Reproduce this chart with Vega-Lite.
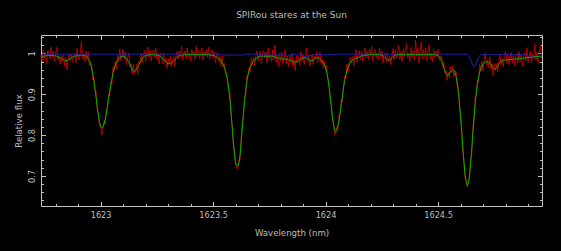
{
"$schema": "https://vega.github.io/schema/vega-lite/v6.json",
"width": 501, "height": 171,
"autosize": {"type": "none"},
"padding": {"left": 41, "top": 35, "right": 19, "bottom": 45},
"background": "#000000",
"title": {"text": "SPIRou stares at the Sun", "font": "DejaVu Sans", "fontSize": 9, "fontWeight": "normal", "color": "#bdbdbd", "anchor": "middle", "offset": 8, "baseline": "alphabetic"},
"data": {"values": [
{"w":1622.735,"o":0.994,"m":0.990,"t":0.996},{"w":1622.74,"o":0.981,"m":0.991,"t":0.996},{"w":1622.745,"o":1.008,"m":0.992,"t":0.996},{"w":1622.75,"o":0.986,"m":0.993,"t":0.996},{"w":1622.755,"o":1.002,"m":0.994,"t":0.996},
{"w":1622.76,"o":0.977,"m":0.995,"t":0.997},{"w":1622.765,"o":1.007,"m":0.995,"t":0.997},{"w":1622.77,"o":0.998,"m":0.995,"t":0.997},{"w":1622.775,"o":0.986,"m":0.995,"t":0.997},{"w":1622.78,"o":1.015,"m":0.995,"t":0.998},
{"w":1622.785,"o":0.991,"m":0.995,"t":0.998},{"w":1622.79,"o":1.005,"m":0.995,"t":0.998},{"w":1622.795,"o":0.980,"m":0.994,"t":0.998},{"w":1622.8,"o":0.999,"m":0.994,"t":0.998},{"w":1622.805,"o":1.015,"m":0.993,"t":0.998},
{"w":1622.81,"o":0.984,"m":0.992,"t":0.998},{"w":1622.815,"o":0.992,"m":0.991,"t":0.998},{"w":1622.82,"o":0.973,"m":0.989,"t":0.998},{"w":1622.825,"o":0.996,"m":0.987,"t":0.998},{"w":1622.83,"o":0.982,"m":0.985,"t":0.998},
{"w":1622.835,"o":0.997,"m":0.984,"t":0.998},{"w":1622.84,"o":0.970,"m":0.982,"t":0.998},{"w":1622.845,"o":0.989,"m":0.982,"t":0.998},{"w":1622.85,"o":0.961,"m":0.982,"t":0.998},{"w":1622.855,"o":0.988,"m":0.984,"t":0.998},
{"w":1622.86,"o":0.999,"m":0.985,"t":0.998},{"w":1622.865,"o":0.982,"m":0.987,"t":0.998},{"w":1622.87,"o":0.999,"m":0.989,"t":0.998},{"w":1622.875,"o":0.978,"m":0.991,"t":0.998},{"w":1622.88,"o":0.993,"m":0.992,"t":0.998},
{"w":1622.885,"o":1.001,"m":0.993,"t":0.998},{"w":1622.89,"o":0.977,"m":0.994,"t":0.998},{"w":1622.895,"o":1.012,"m":0.994,"t":0.998},{"w":1622.9,"o":0.991,"m":0.994,"t":0.998},{"w":1622.905,"o":0.985,"m":0.995,"t":0.998},
{"w":1622.91,"o":1.002,"m":0.995,"t":0.998},{"w":1622.915,"o":1.030,"m":0.995,"t":0.998},{"w":1622.92,"o":0.986,"m":0.995,"t":0.998},{"w":1622.925,"o":0.999,"m":0.995,"t":0.998},{"w":1622.93,"o":0.980,"m":0.994,"t":0.998},
{"w":1622.935,"o":1.005,"m":0.993,"t":0.998},{"w":1622.94,"o":0.985,"m":0.990,"t":0.998},{"w":1622.945,"o":1.004,"m":0.987,"t":0.998},{"w":1622.95,"o":0.970,"m":0.982,"t":0.998},{"w":1622.955,"o":0.978,"m":0.975,"t":0.998},
{"w":1622.96,"o":0.973,"m":0.964,"t":0.998},{"w":1622.965,"o":0.935,"m":0.951,"t":0.998},{"w":1622.97,"o":0.942,"m":0.934,"t":0.998},{"w":1622.975,"o":0.909,"m":0.913,"t":0.998},{"w":1622.98,"o":0.905,"m":0.892,"t":0.998},
{"w":1622.985,"o":0.861,"m":0.869,"t":0.998},{"w":1622.99,"o":0.854,"m":0.849,"t":0.998},{"w":1622.995,"o":0.822,"m":0.832,"t":0.998},{"w":1623.0,"o":0.825,"m":0.821,"t":0.998},{"w":1623.005,"o":0.800,"m":0.817,"t":0.998},
{"w":1623.01,"o":0.814,"m":0.819,"t":0.998},{"w":1623.015,"o":0.835,"m":0.827,"t":0.998},{"w":1623.02,"o":0.826,"m":0.838,"t":0.998},{"w":1623.025,"o":0.862,"m":0.852,"t":0.998},{"w":1623.03,"o":0.866,"m":0.869,"t":0.998},
{"w":1623.035,"o":0.901,"m":0.887,"t":0.998},{"w":1623.04,"o":0.896,"m":0.905,"t":0.998},{"w":1623.045,"o":0.929,"m":0.922,"t":0.998},{"w":1623.05,"o":0.924,"m":0.937,"t":0.998},{"w":1623.055,"o":0.967,"m":0.951,"t":0.998},
{"w":1623.06,"o":0.958,"m":0.962,"t":0.998},{"w":1623.065,"o":0.980,"m":0.971,"t":0.998},{"w":1623.07,"o":0.960,"m":0.978,"t":0.998},{"w":1623.075,"o":0.995,"m":0.983,"t":0.998},{"w":1623.08,"o":0.980,"m":0.987,"t":0.998},
{"w":1623.085,"o":1.011,"m":0.990,"t":0.998},{"w":1623.09,"o":0.982,"m":0.992,"t":0.998},{"w":1623.095,"o":0.996,"m":0.993,"t":0.998},{"w":1623.1,"o":1.010,"m":0.993,"t":0.998},{"w":1623.105,"o":0.985,"m":0.993,"t":0.998},
{"w":1623.11,"o":1.004,"m":0.991,"t":0.998},{"w":1623.115,"o":0.973,"m":0.987,"t":0.998},{"w":1623.12,"o":0.988,"m":0.983,"t":0.998},{"w":1623.125,"o":1.001,"m":0.978,"t":0.998},{"w":1623.13,"o":0.968,"m":0.972,"t":0.998},
{"w":1623.135,"o":0.975,"m":0.966,"t":0.998},{"w":1623.14,"o":0.949,"m":0.961,"t":0.998},{"w":1623.145,"o":0.973,"m":0.957,"t":0.998},{"w":1623.15,"o":0.949,"m":0.956,"t":0.998},{"w":1623.155,"o":0.958,"m":0.957,"t":0.998},
{"w":1623.16,"o":0.973,"m":0.961,"t":0.998},{"w":1623.165,"o":0.949,"m":0.966,"t":0.998},{"w":1623.17,"o":0.980,"m":0.972,"t":0.998},{"w":1623.175,"o":0.975,"m":0.978,"t":0.998},{"w":1623.18,"o":1.001,"m":0.983,"t":0.998},
{"w":1623.185,"o":0.978,"m":0.987,"t":0.998},{"w":1623.19,"o":0.995,"m":0.991,"t":0.998},{"w":1623.195,"o":1.007,"m":0.993,"t":0.998},{"w":1623.2,"o":0.981,"m":0.994,"t":0.998},{"w":1623.205,"o":1.002,"m":0.995,"t":0.998},
{"w":1623.21,"o":1.016,"m":0.996,"t":0.998},{"w":1623.215,"o":0.991,"m":0.996,"t":0.998},{"w":1623.22,"o":1.007,"m":0.997,"t":0.998},{"w":1623.225,"o":0.981,"m":0.997,"t":0.998},{"w":1623.23,"o":1.000,"m":0.997,"t":0.998},
{"w":1623.235,"o":1.009,"m":0.997,"t":0.998},{"w":1623.24,"o":0.989,"m":0.997,"t":0.998},{"w":1623.245,"o":1.013,"m":0.996,"t":0.998},{"w":1623.25,"o":0.986,"m":0.996,"t":0.998},{"w":1623.255,"o":1.000,"m":0.995,"t":0.998},
{"w":1623.26,"o":0.974,"m":0.994,"t":0.998},{"w":1623.265,"o":1.002,"m":0.993,"t":0.998},{"w":1623.27,"o":0.992,"m":0.991,"t":0.998},{"w":1623.275,"o":0.976,"m":0.988,"t":0.998},{"w":1623.28,"o":1.001,"m":0.985,"t":0.998},
{"w":1623.285,"o":0.977,"m":0.982,"t":0.998},{"w":1623.29,"o":0.988,"m":0.980,"t":0.998},{"w":1623.295,"o":0.963,"m":0.977,"t":0.998},{"w":1623.3,"o":0.988,"m":0.975,"t":0.998},{"w":1623.305,"o":0.972,"m":0.975,"t":0.998},
{"w":1623.31,"o":0.993,"m":0.975,"t":0.998},{"w":1623.315,"o":0.968,"m":0.977,"t":0.998},{"w":1623.32,"o":0.984,"m":0.980,"t":0.998},{"w":1623.325,"o":0.992,"m":0.982,"t":0.998},{"w":1623.33,"o":0.968,"m":0.985,"t":0.998},
{"w":1623.335,"o":0.995,"m":0.988,"t":0.998},{"w":1623.34,"o":1.005,"m":0.991,"t":0.998},{"w":1623.345,"o":0.985,"m":0.993,"t":0.998},{"w":1623.35,"o":1.006,"m":0.994,"t":0.998},{"w":1623.355,"o":0.991,"m":0.995,"t":0.998},
{"w":1623.36,"o":1.017,"m":0.996,"t":0.998},{"w":1623.365,"o":0.983,"m":0.996,"t":0.998},{"w":1623.37,"o":1.000,"m":0.997,"t":0.998},{"w":1623.375,"o":1.006,"m":0.997,"t":0.998},{"w":1623.38,"o":0.987,"m":0.997,"t":0.998},
{"w":1623.385,"o":1.014,"m":0.997,"t":0.998},{"w":1623.39,"o":0.990,"m":0.997,"t":0.998},{"w":1623.395,"o":1.002,"m":0.997,"t":0.998},{"w":1623.4,"o":0.981,"m":0.997,"t":0.998},{"w":1623.405,"o":1.010,"m":0.997,"t":0.998},
{"w":1623.41,"o":0.996,"m":0.997,"t":0.998},{"w":1623.415,"o":1.005,"m":0.997,"t":0.998},{"w":1623.42,"o":0.985,"m":0.997,"t":0.998},{"w":1623.425,"o":1.017,"m":0.997,"t":0.998},{"w":1623.43,"o":0.992,"m":0.997,"t":0.998},
{"w":1623.435,"o":1.007,"m":0.997,"t":0.998},{"w":1623.44,"o":0.988,"m":0.997,"t":0.998},{"w":1623.445,"o":1.001,"m":0.997,"t":0.998},{"w":1623.45,"o":1.013,"m":0.997,"t":0.998},{"w":1623.455,"o":0.983,"m":0.997,"t":0.998},
{"w":1623.46,"o":1.004,"m":0.997,"t":0.998},{"w":1623.465,"o":0.994,"m":0.997,"t":0.998},{"w":1623.47,"o":1.009,"m":0.997,"t":0.998},{"w":1623.475,"o":0.989,"m":0.997,"t":0.998},{"w":1623.48,"o":1.015,"m":0.997,"t":0.998},
{"w":1623.485,"o":0.986,"m":0.996,"t":0.998},{"w":1623.49,"o":1.001,"m":0.996,"t":0.998},{"w":1623.495,"o":1.009,"m":0.995,"t":0.998},{"w":1623.5,"o":0.991,"m":0.995,"t":0.998},{"w":1623.505,"o":1.003,"m":0.994,"t":0.998},
{"w":1623.51,"o":0.977,"m":0.993,"t":0.998},{"w":1623.515,"o":0.994,"m":0.991,"t":0.998},{"w":1623.52,"o":1.002,"m":0.989,"t":0.998},{"w":1623.525,"o":0.980,"m":0.987,"t":0.998},{"w":1623.53,"o":0.993,"m":0.985,"t":0.998},
{"w":1623.535,"o":0.969,"m":0.981,"t":0.996},{"w":1623.54,"o":0.994,"m":0.977,"t":0.996},{"w":1623.545,"o":0.967,"m":0.972,"t":0.996},{"w":1623.55,"o":0.976,"m":0.966,"t":0.996},{"w":1623.555,"o":0.949,"m":0.958,"t":0.996},
{"w":1623.56,"o":0.951,"m":0.947,"t":0.996},{"w":1623.565,"o":0.919,"m":0.932,"t":0.996},{"w":1623.57,"o":0.919,"m":0.911,"t":0.996},{"w":1623.575,"o":0.901,"m":0.885,"t":0.996},{"w":1623.58,"o":0.847,"m":0.854,"t":0.996},
{"w":1623.585,"o":0.824,"m":0.819,"t":0.996},{"w":1623.59,"o":0.774,"m":0.784,"t":0.996},{"w":1623.595,"o":0.765,"m":0.753,"t":0.996},{"w":1623.6,"o":0.728,"m":0.732,"t":0.996},{"w":1623.605,"o":0.718,"m":0.726,"t":0.996},
{"w":1623.61,"o":0.718,"m":0.725,"t":0.996},{"w":1623.615,"o":0.741,"m":0.732,"t":0.996},{"w":1623.62,"o":0.741,"m":0.753,"t":0.996},{"w":1623.625,"o":0.791,"m":0.784,"t":0.996},{"w":1623.63,"o":0.833,"m":0.819,"t":0.996},
{"w":1623.635,"o":0.846,"m":0.854,"t":0.996},{"w":1623.64,"o":0.895,"m":0.885,"t":0.998},{"w":1623.645,"o":0.895,"m":0.911,"t":0.998},{"w":1623.65,"o":0.945,"m":0.932,"t":0.998},{"w":1623.655,"o":0.943,"m":0.947,"t":0.998},
{"w":1623.66,"o":0.966,"m":0.958,"t":0.998},{"w":1623.665,"o":0.954,"m":0.966,"t":0.998},{"w":1623.67,"o":0.990,"m":0.972,"t":0.998},{"w":1623.675,"o":0.972,"m":0.977,"t":0.998},{"w":1623.68,"o":0.990,"m":0.981,"t":0.998},
{"w":1623.685,"o":0.971,"m":0.985,"t":0.998},{"w":1623.69,"o":0.994,"m":0.987,"t":0.998},{"w":1623.695,"o":1.006,"m":0.989,"t":0.998},{"w":1623.7,"o":0.982,"m":0.991,"t":0.998},{"w":1623.705,"o":0.996,"m":0.993,"t":0.998},
{"w":1623.71,"o":1.005,"m":0.993,"t":0.998},{"w":1623.715,"o":0.975,"m":0.993,"t":0.998},{"w":1623.72,"o":1.001,"m":0.993,"t":0.998},{"w":1623.725,"o":1.007,"m":0.993,"t":0.998},{"w":1623.73,"o":0.989,"m":0.993,"t":0.998},
{"w":1623.735,"o":1.003,"m":0.993,"t":0.996},{"w":1623.74,"o":0.977,"m":0.993,"t":0.996},{"w":1623.745,"o":1.014,"m":0.993,"t":0.996},{"w":1623.75,"o":0.986,"m":0.993,"t":0.996},{"w":1623.755,"o":0.997,"m":0.993,"t":0.996},
{"w":1623.76,"o":0.980,"m":0.993,"t":0.996},{"w":1623.765,"o":1.009,"m":0.993,"t":0.996},{"w":1623.77,"o":0.983,"m":0.992,"t":0.996},{"w":1623.775,"o":1.020,"m":0.991,"t":0.996},{"w":1623.78,"o":0.978,"m":0.990,"t":0.996},
{"w":1623.785,"o":0.996,"m":0.989,"t":0.996},{"w":1623.79,"o":0.968,"m":0.988,"t":0.996},{"w":1623.795,"o":1.000,"m":0.988,"t":0.996},{"w":1623.8,"o":0.982,"m":0.987,"t":0.996},{"w":1623.805,"o":1.004,"m":0.987,"t":0.996},
{"w":1623.81,"o":0.973,"m":0.987,"t":0.996},{"w":1623.815,"o":0.989,"m":0.986,"t":0.996},{"w":1623.82,"o":1.009,"m":0.986,"t":0.996},{"w":1623.825,"o":0.975,"m":0.985,"t":0.996},{"w":1623.83,"o":0.993,"m":0.985,"t":0.996},
{"w":1623.835,"o":0.967,"m":0.984,"t":0.996},{"w":1623.84,"o":0.996,"m":0.983,"t":0.996},{"w":1623.845,"o":0.978,"m":0.982,"t":0.996},{"w":1623.85,"o":1.001,"m":0.981,"t":0.997},{"w":1623.855,"o":0.968,"m":0.980,"t":0.997},
{"w":1623.86,"o":0.984,"m":0.979,"t":0.997},{"w":1623.865,"o":0.958,"m":0.979,"t":0.997},{"w":1623.87,"o":0.995,"m":0.979,"t":0.997},{"w":1623.875,"o":0.977,"m":0.980,"t":0.997},{"w":1623.88,"o":0.992,"m":0.982,"t":0.997},
{"w":1623.885,"o":0.971,"m":0.984,"t":0.997},{"w":1623.89,"o":1.004,"m":0.986,"t":0.997},{"w":1623.895,"o":0.981,"m":0.988,"t":0.995},{"w":1623.9,"o":0.998,"m":0.989,"t":0.994},{"w":1623.905,"o":0.973,"m":0.989,"t":0.993},
{"w":1623.91,"o":0.993,"m":0.989,"t":0.992},{"w":1623.915,"o":1.014,"m":0.988,"t":0.992},{"w":1623.92,"o":0.979,"m":0.987,"t":0.992},{"w":1623.925,"o":0.997,"m":0.985,"t":0.993},{"w":1623.93,"o":0.969,"m":0.983,"t":0.994},
{"w":1623.935,"o":0.987,"m":0.982,"t":0.995},{"w":1623.94,"o":0.998,"m":0.982,"t":0.996},{"w":1623.945,"o":0.973,"m":0.983,"t":0.997},{"w":1623.95,"o":0.994,"m":0.986,"t":0.997},{"w":1623.955,"o":0.985,"m":0.989,"t":0.997},
{"w":1623.96,"o":1.004,"m":0.990,"t":0.997},{"w":1623.965,"o":0.977,"m":0.989,"t":0.997},{"w":1623.97,"o":0.995,"m":0.988,"t":0.997},{"w":1623.975,"o":1.003,"m":0.986,"t":0.997},{"w":1623.98,"o":0.975,"m":0.984,"t":0.997},
{"w":1623.985,"o":0.984,"m":0.981,"t":0.997},{"w":1623.99,"o":0.964,"m":0.977,"t":0.997},{"w":1623.995,"o":0.982,"m":0.972,"t":0.997},{"w":1624.0,"o":0.958,"m":0.965,"t":0.997},{"w":1624.005,"o":0.970,"m":0.954,"t":0.997},
{"w":1624.01,"o":0.936,"m":0.940,"t":0.997},{"w":1624.015,"o":0.929,"m":0.920,"t":0.997},{"w":1624.02,"o":0.887,"m":0.897,"t":0.997},{"w":1624.025,"o":0.878,"m":0.873,"t":0.997},{"w":1624.03,"o":0.834,"m":0.848,"t":0.997},
{"w":1624.035,"o":0.835,"m":0.827,"t":0.997},{"w":1624.04,"o":0.801,"m":0.813,"t":0.997},{"w":1624.045,"o":0.805,"m":0.808,"t":0.997},{"w":1624.05,"o":0.819,"m":0.812,"t":0.998},{"w":1624.055,"o":0.814,"m":0.823,"t":0.998},
{"w":1624.06,"o":0.850,"m":0.837,"t":0.998},{"w":1624.065,"o":0.851,"m":0.856,"t":0.998},{"w":1624.07,"o":0.887,"m":0.877,"t":0.998},{"w":1624.075,"o":0.881,"m":0.897,"t":0.998},{"w":1624.08,"o":0.922,"m":0.918,"t":0.998},
{"w":1624.085,"o":0.945,"m":0.933,"t":0.998},{"w":1624.09,"o":0.939,"m":0.947,"t":0.998},{"w":1624.095,"o":0.974,"m":0.957,"t":0.998},{"w":1624.1,"o":0.953,"m":0.966,"t":0.998},{"w":1624.105,"o":0.977,"m":0.972,"t":0.998},
{"w":1624.11,"o":0.991,"m":0.977,"t":0.998},{"w":1624.115,"o":0.977,"m":0.981,"t":0.998},{"w":1624.12,"o":0.992,"m":0.983,"t":0.998},{"w":1624.125,"o":0.969,"m":0.986,"t":0.998},{"w":1624.13,"o":0.994,"m":0.987,"t":0.998},
{"w":1624.135,"o":1.009,"m":0.988,"t":0.998},{"w":1624.14,"o":0.979,"m":0.989,"t":0.998},{"w":1624.145,"o":0.993,"m":0.990,"t":0.998},{"w":1624.15,"o":1.007,"m":0.991,"t":0.998},{"w":1624.155,"o":0.984,"m":0.992,"t":0.998},
{"w":1624.16,"o":1.006,"m":0.994,"t":0.998},{"w":1624.165,"o":0.980,"m":0.994,"t":0.998},{"w":1624.17,"o":1.000,"m":0.995,"t":0.998},{"w":1624.175,"o":1.013,"m":0.995,"t":0.998},{"w":1624.18,"o":0.989,"m":0.996,"t":0.998},
{"w":1624.185,"o":1.005,"m":0.996,"t":0.998},{"w":1624.19,"o":0.985,"m":0.997,"t":0.998},{"w":1624.195,"o":1.011,"m":0.997,"t":0.998},{"w":1624.2,"o":0.993,"m":0.997,"t":0.998},{"w":1624.205,"o":1.017,"m":0.997,"t":0.998},
{"w":1624.21,"o":0.981,"m":0.997,"t":0.998},{"w":1624.215,"o":1.005,"m":0.997,"t":0.998},{"w":1624.22,"o":1.010,"m":0.997,"t":0.998},{"w":1624.225,"o":0.988,"m":0.997,"t":0.998},{"w":1624.23,"o":1.001,"m":0.997,"t":0.998},
{"w":1624.235,"o":0.984,"m":0.997,"t":0.998},{"w":1624.24,"o":1.014,"m":0.997,"t":0.998},{"w":1624.245,"o":0.991,"m":0.996,"t":0.998},{"w":1624.25,"o":1.006,"m":0.996,"t":0.998},{"w":1624.255,"o":0.976,"m":0.994,"t":0.998},
{"w":1624.26,"o":0.999,"m":0.992,"t":0.998},{"w":1624.265,"o":1.001,"m":0.989,"t":0.998},{"w":1624.27,"o":0.978,"m":0.986,"t":0.998},{"w":1624.275,"o":1.000,"m":0.984,"t":0.998},{"w":1624.28,"o":0.980,"m":0.983,"t":0.998},
{"w":1624.285,"o":0.993,"m":0.984,"t":0.998},{"w":1624.29,"o":0.972,"m":0.986,"t":0.998},{"w":1624.295,"o":0.994,"m":0.989,"t":0.998},{"w":1624.3,"o":1.012,"m":0.992,"t":0.998},{"w":1624.305,"o":0.984,"m":0.994,"t":0.998},
{"w":1624.31,"o":1.009,"m":0.996,"t":0.998},{"w":1624.315,"o":0.989,"m":0.996,"t":0.998},{"w":1624.32,"o":1.000,"m":0.997,"t":0.998},{"w":1624.325,"o":1.020,"m":0.997,"t":0.998},{"w":1624.33,"o":0.985,"m":0.997,"t":0.998},
{"w":1624.335,"o":1.005,"m":0.997,"t":0.998},{"w":1624.34,"o":0.980,"m":0.997,"t":0.998},{"w":1624.345,"o":1.011,"m":0.997,"t":0.998},{"w":1624.35,"o":0.992,"m":0.997,"t":0.998},{"w":1624.355,"o":1.009,"m":0.997,"t":0.998},
{"w":1624.36,"o":1.024,"m":0.997,"t":0.998},{"w":1624.365,"o":0.988,"m":0.997,"t":0.998},{"w":1624.37,"o":1.001,"m":0.997,"t":0.998},{"w":1624.375,"o":0.981,"m":0.997,"t":0.998},{"w":1624.38,"o":1.015,"m":0.997,"t":0.998},
{"w":1624.385,"o":0.989,"m":0.997,"t":0.998},{"w":1624.39,"o":1.007,"m":0.997,"t":0.998},{"w":1624.395,"o":0.984,"m":0.997,"t":0.998},{"w":1624.4,"o":1.033,"m":0.997,"t":0.998},{"w":1624.405,"o":0.993,"m":0.997,"t":0.998},
{"w":1624.41,"o":1.013,"m":0.997,"t":0.998},{"w":1624.415,"o":0.977,"m":0.997,"t":0.998},{"w":1624.42,"o":1.004,"m":0.997,"t":0.998},{"w":1624.425,"o":1.028,"m":0.997,"t":0.998},{"w":1624.43,"o":0.987,"m":0.997,"t":0.998},
{"w":1624.435,"o":1.010,"m":0.997,"t":0.998},{"w":1624.44,"o":0.992,"m":0.997,"t":0.998},{"w":1624.445,"o":1.014,"m":0.997,"t":0.998},{"w":1624.45,"o":0.983,"m":0.997,"t":0.998},{"w":1624.455,"o":1.005,"m":0.997,"t":0.998},
{"w":1624.46,"o":1.022,"m":0.997,"t":0.998},{"w":1624.465,"o":0.985,"m":0.997,"t":0.998},{"w":1624.47,"o":1.001,"m":0.997,"t":0.998},{"w":1624.475,"o":0.979,"m":0.997,"t":0.998},{"w":1624.48,"o":1.011,"m":0.997,"t":0.998},
{"w":1624.485,"o":0.990,"m":0.997,"t":0.998},{"w":1624.49,"o":1.006,"m":0.996,"t":0.998},{"w":1624.495,"o":0.992,"m":0.995,"t":0.998},{"w":1624.5,"o":1.010,"m":0.994,"t":0.998},{"w":1624.505,"o":0.983,"m":0.992,"t":0.998},
{"w":1624.51,"o":0.993,"m":0.988,"t":0.998},{"w":1624.515,"o":0.995,"m":0.982,"t":0.998},{"w":1624.52,"o":0.967,"m":0.975,"t":0.998},{"w":1624.525,"o":0.978,"m":0.966,"t":0.998},{"w":1624.53,"o":0.953,"m":0.957,"t":0.998},
{"w":1624.535,"o":0.959,"m":0.951,"t":0.998},{"w":1624.54,"o":0.934,"m":0.947,"t":0.998},{"w":1624.545,"o":0.954,"m":0.947,"t":0.998},{"w":1624.55,"o":0.940,"m":0.950,"t":0.998},{"w":1624.555,"o":0.968,"m":0.954,"t":0.998},
{"w":1624.56,"o":0.953,"m":0.958,"t":0.998},{"w":1624.565,"o":0.969,"m":0.960,"t":0.998},{"w":1624.57,"o":0.943,"m":0.959,"t":0.998},{"w":1624.575,"o":0.957,"m":0.953,"t":0.998},{"w":1624.58,"o":0.955,"m":0.943,"t":0.998},
{"w":1624.585,"o":0.920,"m":0.928,"t":0.998},{"w":1624.59,"o":0.920,"m":0.907,"t":0.998},{"w":1624.595,"o":0.869,"m":0.879,"t":0.998},{"w":1624.6,"o":0.851,"m":0.846,"t":0.998},{"w":1624.605,"o":0.818,"m":0.809,"t":0.998},
{"w":1624.61,"o":0.759,"m":0.771,"t":0.998},{"w":1624.615,"o":0.738,"m":0.734,"t":0.998},{"w":1624.62,"o":0.697,"m":0.704,"t":0.998},{"w":1624.625,"o":0.692,"m":0.684,"t":0.998},{"w":1624.63,"o":0.672,"m":0.677,"t":0.997},
{"w":1624.635,"o":0.692,"m":0.682,"t":0.995},{"w":1624.64,"o":0.693,"m":0.702,"t":0.990},{"w":1624.645,"o":0.739,"m":0.732,"t":0.984},{"w":1624.65,"o":0.755,"m":0.768,"t":0.977},{"w":1624.655,"o":0.819,"m":0.807,"t":0.970},
{"w":1624.66,"o":0.839,"m":0.844,"t":0.968},{"w":1624.665,"o":0.893,"m":0.877,"t":0.970},{"w":1624.67,"o":0.895,"m":0.905,"t":0.977},{"w":1624.675,"o":0.934,"m":0.926,"t":0.984},{"w":1624.68,"o":0.929,"m":0.943,"t":0.990},
{"w":1624.685,"o":0.973,"m":0.955,"t":0.995},{"w":1624.69,"o":0.956,"m":0.963,"t":0.997},{"w":1624.695,"o":0.981,"m":0.969,"t":0.997},{"w":1624.7,"o":0.957,"m":0.974,"t":0.997},{"w":1624.705,"o":0.986,"m":0.977,"t":0.997},
{"w":1624.71,"o":1.000,"m":0.979,"t":0.997},{"w":1624.715,"o":0.971,"m":0.979,"t":0.997},{"w":1624.72,"o":0.983,"m":0.979,"t":0.997},{"w":1624.725,"o":0.965,"m":0.978,"t":0.997},{"w":1624.73,"o":0.992,"m":0.976,"t":0.997},
{"w":1624.735,"o":0.962,"m":0.972,"t":0.997},{"w":1624.74,"o":0.975,"m":0.968,"t":0.997},{"w":1624.745,"o":0.946,"m":0.964,"t":0.997},{"w":1624.75,"o":0.975,"m":0.961,"t":0.997},{"w":1624.755,"o":0.958,"m":0.962,"t":0.997},
{"w":1624.76,"o":0.975,"m":0.965,"t":0.997},{"w":1624.765,"o":0.955,"m":0.969,"t":0.997},{"w":1624.77,"o":0.982,"m":0.974,"t":0.997},{"w":1624.775,"o":0.998,"m":0.978,"t":0.997},{"w":1624.78,"o":0.971,"m":0.980,"t":0.997},
{"w":1624.785,"o":0.987,"m":0.982,"t":0.997},{"w":1624.79,"o":0.967,"m":0.983,"t":0.997},{"w":1624.795,"o":0.995,"m":0.983,"t":0.997},{"w":1624.8,"o":1.006,"m":0.984,"t":0.997},{"w":1624.805,"o":0.977,"m":0.984,"t":0.997},
{"w":1624.81,"o":0.997,"m":0.984,"t":0.997},{"w":1624.815,"o":0.973,"m":0.985,"t":0.997},{"w":1624.82,"o":0.988,"m":0.985,"t":0.997},{"w":1624.825,"o":1.002,"m":0.985,"t":0.997},{"w":1624.83,"o":0.977,"m":0.985,"t":0.997},
{"w":1624.835,"o":0.996,"m":0.986,"t":0.997},{"w":1624.84,"o":0.969,"m":0.986,"t":0.997},{"w":1624.845,"o":0.993,"m":0.986,"t":0.997},{"w":1624.85,"o":1.000,"m":0.986,"t":0.997},{"w":1624.855,"o":0.977,"m":0.987,"t":0.997},
{"w":1624.86,"o":1.005,"m":0.987,"t":0.997},{"w":1624.865,"o":0.982,"m":0.987,"t":0.997},{"w":1624.87,"o":0.997,"m":0.988,"t":0.997},{"w":1624.875,"o":0.968,"m":0.988,"t":0.997},{"w":1624.88,"o":0.992,"m":0.988,"t":0.997},
{"w":1624.885,"o":1.002,"m":0.989,"t":0.997},{"w":1624.89,"o":0.981,"m":0.989,"t":0.996},{"w":1624.895,"o":1.014,"m":0.989,"t":0.995},{"w":1624.9,"o":0.978,"m":0.990,"t":0.994},{"w":1624.905,"o":0.995,"m":0.990,"t":0.993},
{"w":1624.91,"o":1.006,"m":0.990,"t":0.993},{"w":1624.915,"o":0.977,"m":0.991,"t":0.992},{"w":1624.92,"o":0.999,"m":0.991,"t":0.992},{"w":1624.925,"o":0.987,"m":0.991,"t":0.992},{"w":1624.93,"o":1.023,"m":0.992,"t":0.992},
{"w":1624.935,"o":0.983,"m":0.992,"t":0.993},{"w":1624.94,"o":1.004,"m":0.992,"t":0.993},{"w":1624.945,"o":0.976,"m":0.992,"t":0.993},{"w":1624.95,"o":0.999,"m":0.992,"t":0.993},{"w":1624.955,"o":1.021,"m":0.992,"t":0.993},
{"w":1624.96,"o":0.987,"m":0.992,"t":0.993}
]},
"layer": [
{"mark": {"type": "line", "color": "#b40000", "strokeWidth": 1},
 "encoding": {
  "x": {"field": "w", "type": "quantitative", "scale": {"domain": [1622.735, 1624.962], "nice": false, "zero": false},
        "axis": {"orient": "bottom", "values": [1623, 1623.5, 1624, 1624.5], "format": "~g", "ticks": false, "labelPadding": 5, "title": "Wavelength (nm)", "titlePadding": 10}},
  "y": {"field": "o", "type": "quantitative", "scale": {"domain": [0.6265, 1.045], "nice": false, "zero": false},
        "axis": {"orient": "left", "values": [0.7, 0.8, 0.9, 1], "format": "~g", "ticks": false, "labelAngle": 270, "labelAlign": "center", "labelBaseline": "bottom", "labelPadding": 5, "title": "Relative flux", "titlePadding": 4}}
 }},
{"mark": {"type": "line", "color": "#2323b4", "strokeWidth": 1},
 "encoding": {
  "x": {"field": "w", "type": "quantitative", "scale": {"domain": [1622.735, 1624.962], "nice": false, "zero": false},
        "axis": {"orient": "bottom", "labels": false, "title": null, "values": [1622.8,1622.9,1623,1623.1,1623.2,1623.3,1623.4,1623.5,1623.6,1623.7,1623.8,1623.9,1624,1624.1,1624.2,1624.3,1624.4,1624.5,1624.6,1624.7,1624.8,1624.9],
                 "tickSize": {"condition": {"test": "abs(datum.value*2-round(datum.value*2))<0.01", "value": -4.5}, "value": -2.5}}},
  "y": {"field": "t", "type": "quantitative", "scale": {"domain": [0.6265, 1.045], "nice": false, "zero": false},
        "axis": {"orient": "left", "labels": false, "title": null, "values": [0.64,0.66,0.68,0.7,0.72,0.74,0.76,0.78,0.8,0.82,0.84,0.86,0.88,0.9,0.92,0.94,0.96,0.98,1,1.02,1.04],
                 "tickSize": {"condition": {"test": "abs(datum.value*10-round(datum.value*10))<0.01", "value": -4.5}, "value": -2.5}}}
 }},
{"mark": {"type": "line", "color": "#00b400", "strokeWidth": 1},
 "encoding": {
  "x": {"field": "w", "type": "quantitative", "scale": {"domain": [1622.735, 1624.962], "nice": false, "zero": false},
        "axis": {"orient": "top", "labels": false, "title": null, "values": [1622.8,1622.9,1623,1623.1,1623.2,1623.3,1623.4,1623.5,1623.6,1623.7,1623.8,1623.9,1624,1624.1,1624.2,1624.3,1624.4,1624.5,1624.6,1624.7,1624.8,1624.9],
                 "tickSize": {"condition": {"test": "abs(datum.value*2-round(datum.value*2))<0.01", "value": -4.5}, "value": -2.5}}},
  "y": {"field": "m", "type": "quantitative", "scale": {"domain": [0.6265, 1.045], "nice": false, "zero": false},
        "axis": {"orient": "right", "labels": false, "title": null, "values": [0.64,0.66,0.68,0.7,0.72,0.74,0.76,0.78,0.8,0.82,0.84,0.86,0.88,0.9,0.92,0.94,0.96,0.98,1,1.02,1.04],
                 "tickSize": {"condition": {"test": "abs(datum.value*10-round(datum.value*10))<0.01", "value": -4.5}, "value": -2.5}}}
 }}
],
"resolve": {"axis": {"x": "independent", "y": "independent"}},
"config": {
 "view": {"stroke": "#c4c4c4", "strokeWidth": 1},
 "axis": {"grid": false, "domain": false, "tickColor": "#c4c4c4", "tickWidth": 1, "labelColor": "#bdbdbd", "titleColor": "#bdbdbd", "labelFont": "DejaVu Sans", "titleFont": "DejaVu Sans", "labelFontSize": 8.2, "titleFontSize": 8.6, "titleFontWeight": "normal"}
}
}
